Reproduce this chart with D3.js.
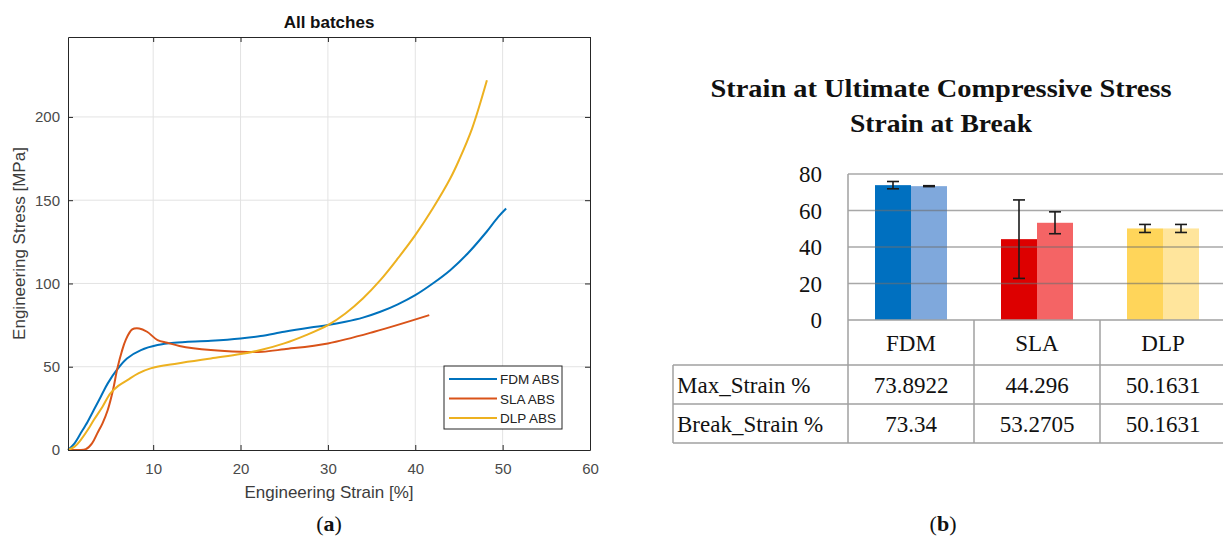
<!DOCTYPE html>
<html>
<head>
<meta charset="utf-8">
<script src="https://cdn.jsdelivr.net/npm/d3@7"></script>
<style>
  body { margin: 0; background: #fff; }
  svg { display: block; }
</style>
</head>
<body>
<svg id="fig" width="1223" height="544"></svg>
<script>
// ---------- Panel (a): compressive stress–strain curves ----------
const fdmStrain = [0.25, 1, 1.7, 2.5, 3.2, 4, 4.8, 5.9, 7, 8.6, 10.5, 12.4, 16.6, 20, 22.3, 25, 28, 30, 32, 34, 36, 38, 40, 42, 44, 46, 48, 49.5, 50.4];
const fdmStress = [0, 4, 10, 17, 24, 32, 40, 48.5, 55, 60, 63, 64.4, 65.6, 67, 68.4, 71, 73.5, 75, 77, 79.5, 83, 87.5, 93, 100, 108, 118, 130, 140, 145];

const slaStrain = [0.25, 1.5, 2.3, 3, 3.6, 4.2, 4.8, 5.4, 5.9, 6.4, 6.85, 7.6, 8.4, 9.3, 10.5, 11.6, 13, 16.6, 20, 22.5, 25, 30, 35.3, 41.6];
const slaStress = [0, 0, 0.5, 4, 10, 16, 24, 36, 49, 59, 66, 72.4, 73, 71, 66, 64.4, 62.5, 60, 59, 59, 60.5, 64, 71, 81];

const dlpStrain = [0.25, 1, 1.7, 2.5, 3.2, 4.2, 5.1, 6, 7.05, 8.3, 9.7, 12.8, 16.6, 20, 22.3, 25, 27.5, 30, 32, 34, 36, 38, 40, 42, 44, 45, 46.5, 48.2];
const dlpStress = [0, 2, 6, 12, 18, 26, 34, 38.5, 42, 46, 49, 52, 55, 57.6, 60, 64, 69, 75, 82, 91, 102, 115, 129, 145, 163, 174, 193, 222];

const curveNames = ["FDM ABS", "SLA ABS", "DLP ABS"];
const curveColors = ["#0072BD", "#D95319", "#EDB120"];
const strainTicks = [10, 20, 30, 40, 50, 60];
const stressTicks = [0, 50, 100, 150, 200];

// ---------- Panel (b): strain at ultimate stress / at break ----------
const processes = ["FDM", "SLA", "DLP"];
const maxStrain = [73.8922, 44.296, 50.1631];
const breakStrain = [73.34, 53.2705, 50.1631];
const maxStrainErr = [2.0, 21.5, 2.2];
const breakStrainErr = [0.25, 6.0, 2.2];
const maxStrainLabels = ["73.8922", "44.296", "50.1631"];
const breakStrainLabels = ["73.34", "53.2705", "50.1631"];
const rowNames = ["Max_Strain %", "Break_Strain %"];
const strainAxisTicks = [0, 20, 40, 60, 80];
const darkColors = ["#0070C0", "#DD0000", "#FFD55A"];
const lightColors = ["#7FA8DC", "#F46465", "#FFE59C"];

const svg = d3.select("#fig");

// ===== Panel (a) =====
const sans = "'Liberation Sans', Arial, sans-serif";
const A = { left: 68, right: 590, top: 37, bottom: 450 };
const xL = d3.scaleLinear().domain([0.25, 60]).range([A.left, A.right]);
const yL = d3.scaleLinear().domain([0, 248]).range([A.bottom, A.top]);

const pa = svg.append("g");

// grid
pa.append("g").selectAll("line").data(strainTicks.filter(d => d < 60)).join("line")
  .attr("x1", d => xL(d)).attr("x2", d => xL(d))
  .attr("y1", A.top).attr("y2", A.bottom)
  .attr("stroke", "#e3e3e3").attr("stroke-width", 1);
pa.append("g").selectAll("line").data(stressTicks.filter(d => d > 0)).join("line")
  .attr("x1", A.left).attr("x2", A.right)
  .attr("y1", d => yL(d)).attr("y2", d => yL(d))
  .attr("stroke", "#e3e3e3").attr("stroke-width", 1);

// curves
const series = [
  { x: fdmStrain, y: fdmStress },
  { x: slaStrain, y: slaStress },
  { x: dlpStrain, y: dlpStress }
];
const line = d3.line().x(d => xL(d[0])).y(d => yL(d[1])).curve(d3.curveCatmullRom.alpha(0.5));
series.forEach((s, i) => {
  pa.append("path")
    .datum(s.x.map((v, k) => [v, s.y[k]]))
    .attr("d", line)
    .attr("fill", "none")
    .attr("stroke", curveColors[i])
    .attr("stroke-width", 2)
    .attr("stroke-linejoin", "round");
});

// axes (box with inward ticks)
function styleAxis(g, labels) {
  g.select(".domain").attr("stroke", "#262626").attr("stroke-width", 1);
  g.selectAll(".tick line").attr("stroke", "#262626");
  g.selectAll(".tick text").attr("fill", "#4a4a4a").style("font-family", sans).style("font-size", "15px");
  if (!labels) g.selectAll(".tick text").remove();
}
pa.append("g").attr("transform", `translate(0,${A.bottom})`)
  .call(d3.axisBottom(xL).tickValues(strainTicks).tickSizeInner(-5).tickSizeOuter(0).tickPadding(13))
  .call(g => styleAxis(g, true));
pa.append("g").attr("transform", `translate(0,${A.top})`)
  .call(d3.axisTop(xL).tickValues(strainTicks).tickSizeInner(-5).tickSizeOuter(0))
  .call(g => styleAxis(g, false));
pa.append("g").attr("transform", `translate(${A.left},0)`)
  .call(d3.axisLeft(yL).tickValues(stressTicks).tickSizeInner(-5).tickSizeOuter(0).tickPadding(8))
  .call(g => styleAxis(g, true));
pa.append("g").attr("transform", `translate(${A.right},0)`)
  .call(d3.axisRight(yL).tickValues(stressTicks).tickSizeInner(-5).tickSizeOuter(0))
  .call(g => styleAxis(g, false));

// titles
pa.append("text").attr("x", (A.left + A.right) / 2).attr("y", 28)
  .attr("text-anchor", "middle").style("font-family", sans).style("font-size", "17px")
  .style("font-weight", "bold").attr("fill", "#111").text("All batches");
pa.append("text").attr("x", (A.left + A.right) / 2).attr("y", 498)
  .attr("text-anchor", "middle").style("font-family", sans).style("font-size", "17px")
  .attr("fill", "#3c3c3c").text("Engineering Strain [%]");
pa.append("text").attr("transform", `translate(25,${(A.top + A.bottom) / 2}) rotate(-90)`)
  .attr("text-anchor", "middle").style("font-family", sans).style("font-size", "17px")
  .attr("fill", "#3c3c3c").text("Engineering Stress [MPa]");

// legend
const lg = pa.append("g").attr("transform", "translate(444,366)");
lg.append("rect").attr("width", 118).attr("height", 63)
  .attr("fill", "#fff").attr("stroke", "#262626").attr("stroke-width", 1);
curveNames.forEach((n, i) => {
  const yy = 13 + i * 19.5;
  lg.append("line").attr("x1", 5).attr("x2", 53).attr("y1", yy).attr("y2", yy)
    .attr("stroke", curveColors[i]).attr("stroke-width", 2);
  lg.append("text").attr("x", 56).attr("y", yy + 5)
    .style("font-family", sans).style("font-size", "13.5px").attr("fill", "#222").text(n);
});

// ===== Panel (b) =====
const serif = "'Palatino Linotype', 'Book Antiqua', Palatino, 'Liberation Serif', serif";
const B = { left: 848, right: 1226, top: 174, bottom: 320 };
const xR = d3.scaleBand().domain(processes).range([B.left, B.right]);
const xSub = d3.scaleBand().domain(["max", "break"]).range([27, xR.bandwidth() - 27]);
const yR = d3.scaleLinear().domain([0, 80]).range([B.bottom, B.top]);

const pb = svg.append("g");

pb.append("text").attr("x", 941).attr("y", 97).attr("text-anchor", "middle")
  .attr("textLength", 461).attr("lengthAdjust", "spacingAndGlyphs")
  .style("font-family", serif).style("font-size", "26px").style("font-weight", "bold")
  .attr("fill", "#111").text("Strain at Ultimate Compressive Stress");
pb.append("text").attr("x", 941).attr("y", 132).attr("text-anchor", "middle")
  .attr("textLength", 182).attr("lengthAdjust", "spacingAndGlyphs")
  .style("font-family", serif).style("font-size", "26px").style("font-weight", "bold")
  .attr("fill", "#111").text("Strain at Break");

// bars
const barData = [];
processes.forEach((p, i) => {
  barData.push({ p, k: "max", v: maxStrain[i], e: maxStrainErr[i], c: darkColors[i] });
  barData.push({ p, k: "break", v: breakStrain[i], e: breakStrainErr[i], c: lightColors[i] });
});
pb.append("g").selectAll("rect").data(barData).join("rect")
  .attr("x", d => xR(d.p) + xSub(d.k))
  .attr("width", xSub.bandwidth())
  .attr("y", d => yR(d.v))
  .attr("height", d => yR(0) - yR(d.v))
  .attr("fill", d => d.c);

// horizontal gridlines drawn over the bars
const gridColor = "#6e6e6e";
pb.append("g").selectAll("line").data(strainAxisTicks.filter(d => d > 0)).join("line")
  .attr("x1", B.left).attr("x2", 1223)
  .attr("y1", d => yR(d)).attr("y2", d => yR(d))
  .attr("stroke", gridColor).attr("stroke-opacity", 0.6).attr("stroke-width", 1.5);

// error bars
const eb = pb.append("g").attr("stroke", "#1a1a1a").attr("stroke-width", 1.6);
barData.forEach(d => {
  const cx = xR(d.p) + xSub(d.k) + xSub.bandwidth() / 2;
  const y1 = yR(d.v + d.e), y2 = yR(d.v - d.e);
  eb.append("line").attr("x1", cx).attr("x2", cx).attr("y1", y1).attr("y2", y2);
  eb.append("line").attr("x1", cx - 6).attr("x2", cx + 6).attr("y1", y1).attr("y2", y1);
  eb.append("line").attr("x1", cx - 6).attr("x2", cx + 6).attr("y1", y2).attr("y2", y2);
});

// y tick labels
pb.append("g").selectAll("text").data(strainAxisTicks).join("text")
  .attr("x", 822).attr("y", d => yR(d)).attr("dy", "0.35em").attr("text-anchor", "end")
  .style("font-family", serif).style("font-size", "23px").attr("fill", "#111").text(d => d);

// data table beneath the bars
const rowY = [320, 365, 404, 443];
const tableLeft = 673;
const tg = pb.append("g").attr("stroke", "#a0a0a0").attr("stroke-width", 1.5);
tg.append("line").attr("x1", B.left).attr("x2", 1223).attr("y1", rowY[0]).attr("y2", rowY[0]);
[1, 2, 3].forEach(r => tg.append("line").attr("x1", tableLeft).attr("x2", 1223).attr("y1", rowY[r]).attr("y2", rowY[r]));
tg.append("line").attr("x1", B.left).attr("x2", B.left).attr("y1", B.top).attr("y2", rowY[3]);
tg.append("line").attr("x1", tableLeft).attr("x2", tableLeft).attr("y1", rowY[1]).attr("y2", rowY[3]);
processes.slice(1).forEach(p => tg.append("line").attr("x1", xR(p)).attr("x2", xR(p)).attr("y1", rowY[0]).attr("y2", rowY[3]));

const cellText = (x, y, t, anchor) => pb.append("text").attr("x", x).attr("y", y).attr("dy", "0.35em")
  .attr("text-anchor", anchor).style("font-family", serif).style("font-size", "23px").attr("fill", "#111").text(t);
processes.forEach((p, i) => {
  const cx = xR(p) + xR.bandwidth() / 2;
  cellText(cx, (rowY[0] + rowY[1]) / 2, p, "middle");
  cellText(cx, (rowY[1] + rowY[2]) / 2, maxStrainLabels[i], "middle");
  cellText(cx, (rowY[2] + rowY[3]) / 2, breakStrainLabels[i], "middle");
});
rowNames.forEach((n, r) => cellText(tableLeft + 4, (rowY[r + 1] + rowY[r + 2]) / 2, n, "start"));

// panel captions
function caption(x, letter) {
  const t = svg.append("text").attr("x", x).attr("y", 531).attr("text-anchor", "middle")
    .style("font-family", serif).style("font-size", "22px").attr("fill", "#111");
  t.append("tspan").text("(");
  t.append("tspan").style("font-weight", "bold").text(letter);
  t.append("tspan").text(")");
}
caption(329, "a");
caption(943, "b");
</script>
</body>
</html>
